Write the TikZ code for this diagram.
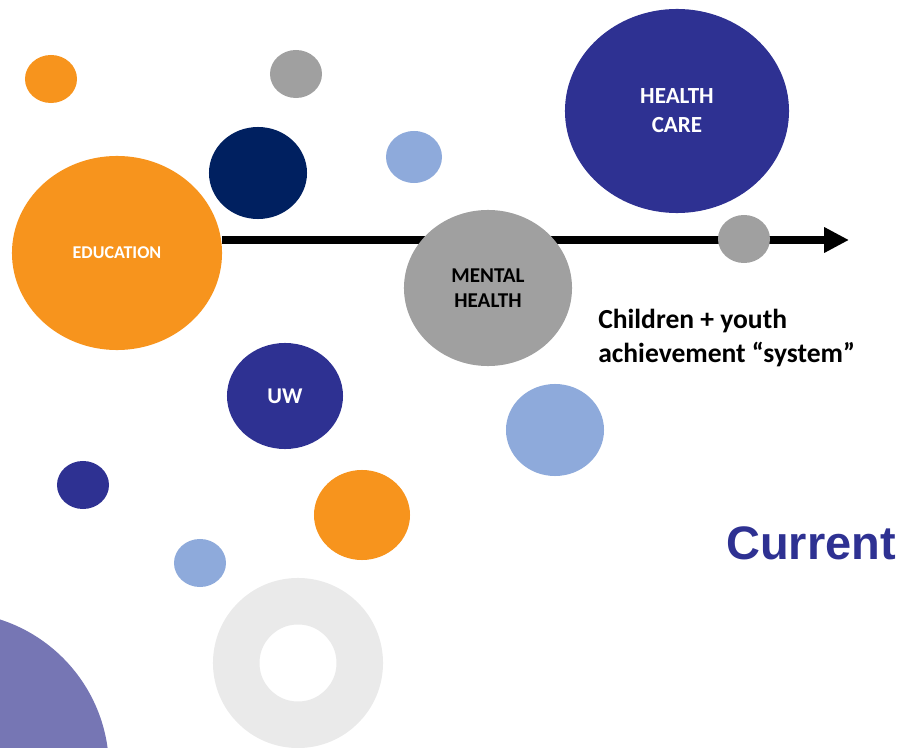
\documentclass[tikz,border=0pt]{standalone}
\usepackage{fontspec}
\setmainfont{Carlito}
\newfontfamily\arialfont{Liberation Sans}
\usetikzlibrary{shapes.geometric, arrows.meta, backgrounds}
\definecolor{eduorange}{HTML}{F7941D}
\definecolor{darknavy}{HTML}{002060}
\definecolor{careblue}{HTML}{2E3192}
\definecolor{bubblegray}{HTML}{A0A0A0}
\definecolor{lightblue}{HTML}{8EAADB}
\definecolor{ringgray}{HTML}{EAEAEA}
\definecolor{lilac}{HTML}{7676B4}

\begin{document}
\begin{tikzpicture}[x=0.025cm,y=-0.025cm,
    bubble/.style n args={3}{ellipse,fill=#1,inner sep=0pt,minimum width=#2*0.05cm,
        minimum height=#3*0.05cm,text=white,align=center},
    bubbletext/.style 2 args={font=\bfseries\fontsize{#1}{#2}\selectfont}]

    \useasboundingbox (0,0) rectangle (903,748);
    \clip (0,0) rectangle (903,748);

    % background shapes
    \fill[lilac] (-48,769) circle (157);
    \node[circle,draw=ringgray,line width=1.1625cm,minimum size=3.0875cm,inner sep=0pt] (ring) at (298,663) {};

    % bubbles
    \node[bubble={eduorange}{26}{24}] (dotA) at (51,79) {};
    \node[bubble={bubblegray}{26}{24}] (dotB) at (296,74) {};
    \node[bubble={darknavy}{49}{46}] (navy) at (258,173) {};
    \node[bubble={lightblue}{28}{26}] (dotC) at (414,157) {};
    \node[bubble={careblue}{112}{102},bubbletext={16.4}{20.6}] (care) at (677,111) {HEALTH\\CARE};
    \node[bubble={eduorange}{105}{97},bubbletext={12.8}{15}] (edu) at (117,253) {EDUCATION};
    \node[bubble={bubblegray}{26}{24}] (dotD) at (744,239) {};
    \node[bubble={bubblegray}{84}{78},text=black,bubbletext={15}{17.8}] (mental) at (488,288) {MENTAL\\HEALTH};
    \node[bubble={careblue}{58}{53},bubbletext={16}{19}] (uw) at (285,396) {UW};
    \node[bubble={lightblue}{49}{46}] (dotE) at (555,430) {};
    \node[bubble={careblue}{26}{24}] (dotF) at (83,485) {};
    \node[bubble={eduorange}{48}{45}] (dotG) at (362,515) {};
    \node[bubble={lightblue}{26}{24}] (dotH) at (200,563) {};

    % axis
    \coordinate (axisend) at (849,240);
    \begin{pgfonlayer}{background}
        \draw[line width=0.2cm,-{Triangle[length=0.62cm,width=0.6cm]}] (edu.east |- axisend) -- (axisend);
    \end{pgfonlayer}

    \node[anchor=west,align=left,inner sep=0pt,bubbletext={19.6}{24.2}] (system) at (598,338) {Children + youth\\achievement “system”};
    \node[inner sep=0pt,text=careblue,font=\arialfont\bfseries\fontsize{33.4}{40}\selectfont] (current) at (811,543) {Current};
\end{tikzpicture}
\end{document}
